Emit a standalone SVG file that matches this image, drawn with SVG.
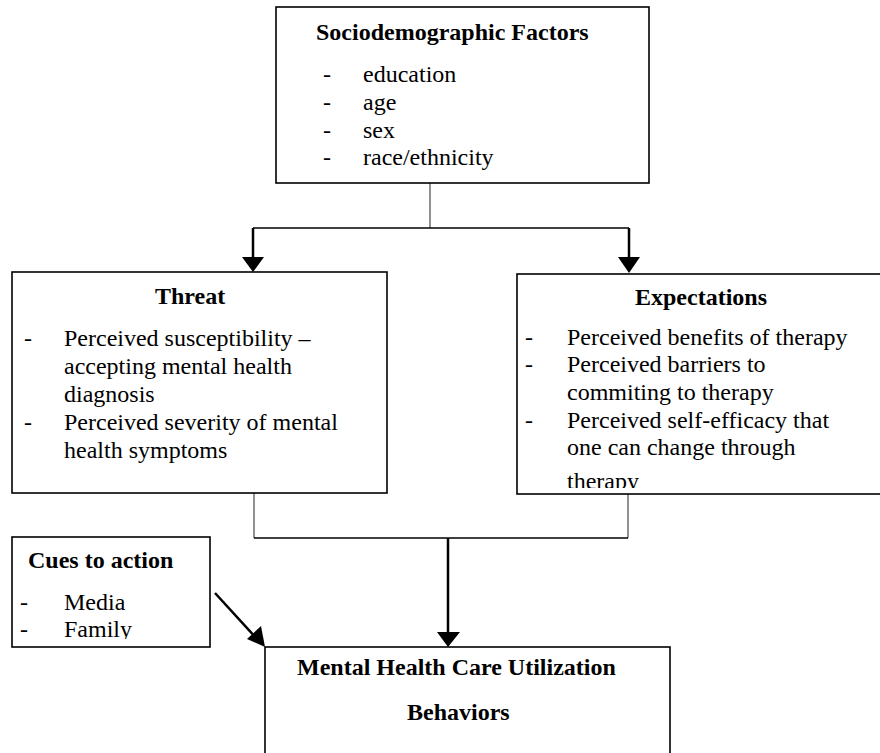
<svg xmlns="http://www.w3.org/2000/svg" width="880" height="753" viewBox="0 0 880 753">
<style>
.box{fill:#fff;stroke:#000;stroke-width:1.6}
.thin{stroke:#555;stroke-width:1.3;fill:none}
.hl{stroke:#000;stroke-width:1.3;fill:none}
.arr{stroke:#000;stroke-width:2.5;fill:none}
.head{fill:#000}
</style>
<defs>
<clipPath id="cExp"><rect x="518" y="275" width="370" height="213"/></clipPath>
<clipPath id="cCue"><rect x="13" y="538" width="196" height="101"/></clipPath>
</defs>
<rect width="880" height="753" fill="#fff"/>
<g id="connectors">
<line class="thin" x1="430" y1="183" x2="430" y2="228"/>
<line class="hl" x1="253" y1="228" x2="629" y2="228"/>
<line class="arr" x1="253" y1="228" x2="253" y2="258"/>
<polygon class="head" points="242,257 264,257 253,272"/>
<line class="arr" x1="629" y1="228" x2="629" y2="258"/>
<polygon class="head" points="618,257 640,257 629,273"/>
<line class="thin" x1="254" y1="493" x2="254" y2="538"/>
<line class="thin" x1="628" y1="494" x2="628" y2="538"/>
<line class="hl" x1="254" y1="538" x2="628" y2="538"/>
<line class="arr" x1="448" y1="538" x2="448" y2="633"/>
<polygon class="head" points="437,632 460,632 448,647"/>
<line class="arr" x1="215" y1="593" x2="257" y2="639"/>
<polygon class="head" points="265,647 247,639 261,626"/>
</g>
<g id="sociodemographic">
<rect class="box" x="276" y="7" width="373" height="176"/>
<text font-family="Liberation Serif" font-size="24" x="363" y="82">education</text>
<text font-family="Liberation Serif" font-size="24" x="323" y="82">-</text>
<text font-family="Liberation Serif" font-size="24" x="323" y="110">-</text>
<text font-family="Liberation Serif" font-size="24" x="363" y="110">age</text>
<text font-family="Liberation Serif" font-size="24" x="323" y="138">-</text>
<text font-family="Liberation Serif" font-size="24" x="363" y="138">sex</text>
<text font-family="Liberation Serif" font-size="24" x="323" y="165">-</text>
<text font-family="Liberation Serif" font-size="24" x="363" y="165">race/ethnicity</text>
<text font-family="Liberation Serif" font-size="24" font-weight="bold" x="316" y="40">Sociodemographic Factors</text>
</g>
<g id="threat">
<rect class="box" x="12" y="272" width="375" height="221"/>
<text font-family="Liberation Serif" font-size="24" x="24" y="346">-</text>
<text font-family="Liberation Serif" font-size="24" x="64" y="346">Perceived susceptibility –</text>
<text font-family="Liberation Serif" font-size="24" x="64" y="374">accepting mental health</text>
<text font-family="Liberation Serif" font-size="24" x="64" y="402">diagnosis</text>
<text font-family="Liberation Serif" font-size="24" x="24" y="430">-</text>
<text font-family="Liberation Serif" font-size="24" x="64" y="430">Perceived severity of mental</text>
<text font-family="Liberation Serif" font-size="24" x="64" y="458">health symptoms</text>
<text font-family="Liberation Serif" font-size="24" font-weight="bold" x="155" y="304">Threat</text>
</g>
<g id="expectations">
<rect class="box" x="517" y="274" width="380" height="220"/>
<g clip-path="url(#cExp)">
<text font-family="Liberation Serif" font-size="24" x="525" y="345">-</text>
<text font-family="Liberation Serif" font-size="24" x="567" y="345">Perceived benefits of therapy</text>
<text font-family="Liberation Serif" font-size="24" x="525" y="372">-</text>
<text font-family="Liberation Serif" font-size="24" x="567" y="372">Perceived barriers to</text>
<text font-family="Liberation Serif" font-size="24" x="567" y="400">commiting to therapy</text>
<text font-family="Liberation Serif" font-size="24" x="525" y="428">-</text>
<text font-family="Liberation Serif" font-size="24" x="567" y="428">Perceived self-efficacy that</text>
<text font-family="Liberation Serif" font-size="24" x="567" y="455">one can change through</text>
<text font-family="Liberation Serif" font-size="24" x="567" y="489">therapy</text>
</g>
<text font-family="Liberation Serif" font-size="24" font-weight="bold" x="635" y="305">Expectations</text>
</g>
<g id="cues">
<rect class="box" x="12" y="537" width="198" height="110"/>
<g clip-path="url(#cCue)">
<text font-family="Liberation Serif" font-size="24" x="20" y="610">-</text>
<text font-family="Liberation Serif" font-size="24" x="64" y="610">Media</text>
<text font-family="Liberation Serif" font-size="24" x="20" y="637">-</text>
<text font-family="Liberation Serif" font-size="24" x="64" y="637">Family</text>
</g>
<text font-family="Liberation Serif" font-size="24" font-weight="bold" x="28" y="568">Cues to action</text>
</g>
<g id="utilization">
<rect class="box" x="265" y="647" width="405" height="120"/>
<text font-family="Liberation Serif" font-size="24" font-weight="bold" x="297" y="675">Mental Health Care Utilization</text>
<text font-family="Liberation Serif" font-size="24" font-weight="bold" x="407" y="720">Behaviors</text>
</g>
</svg>
